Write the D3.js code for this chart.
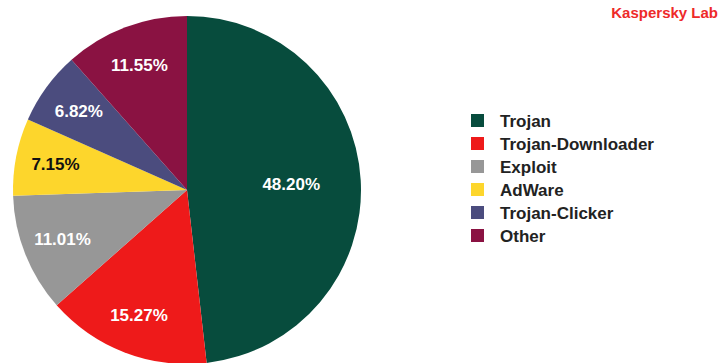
<!DOCTYPE html>
<html>
<head>
<meta charset="utf-8">
<script src="https://cdn.jsdelivr.net/npm/d3@7"></script>
<style>
  body { margin: 0; background: #fff; }
  svg { display: block; font-family: "Liberation Sans", Arial, sans-serif; }
</style>
</head>
<body>
<div id="chart"></div>
<script>
// data
const categories = ["Trojan", "Trojan-Downloader", "Exploit", "AdWare", "Trojan-Clicker", "Other"];
const shares = [48.20, 15.27, 11.01, 7.15, 6.82, 11.55];
const colors = ["#074c3d", "#ee1a1a", "#979797", "#fdd62c", "#4b4c7e", "#8a1242"];
const labelColors = ["#fff", "#fff", "#fff", "#111", "#fff", "#fff"];

const width = 727, height = 363;
const cx = 187, cy = 190, radius = 174;

const svg = d3.select("#chart").append("svg")
    .attr("width", width)
    .attr("height", height);

const data = categories.map((c, i) => ({ name: c, value: shares[i], color: colors[i], label: labelColors[i] }));

const pie = d3.pie().value(d => d.value).sort(null);
const arcs = pie(data);

const arc = d3.arc().innerRadius(0).outerRadius(radius);

const g = svg.append("g").attr("transform", "translate(" + cx + "," + cy + ")");

g.selectAll("path")
    .data(arcs)
    .join("path")
    .attr("d", arc)
    .attr("fill", d => d.data.color);

// labels: big slice closer to centre, small ones further out
g.selectAll("text")
    .data(arcs)
    .join("text")
    .attr("transform", d => {
        const r = d.data.value > 25 ? 0.6 * radius : 0.77 * radius;
        const a = (d.startAngle + d.endAngle) / 2;
        return "translate(" + (Math.sin(a) * r) + "," + (-Math.cos(a) * r) + ")";
    })
    .attr("text-anchor", "middle")
    .attr("dy", "0.35em")
    .style("font-size", "17px")
    .style("font-weight", "bold")
    .attr("fill", d => d.data.label)
    .text(d => d.data.value.toFixed(2) + "%");

// legend
const legend = svg.append("g").attr("transform", "translate(471,114)");
const rows = legend.selectAll("g")
    .data(data)
    .join("g")
    .attr("transform", (d, i) => "translate(0," + (i * 23) + ")");

rows.append("rect")
    .attr("width", 13)
    .attr("height", 13)
    .attr("fill", d => d.color);

rows.append("text")
    .attr("x", 29)
    .attr("y", 7)
    .attr("dy", "0.35em")
    .style("font-size", "17px")
    .style("font-weight", "bold")
    .attr("fill", "#222")
    .text(d => d.name);

svg.append("text")
    .attr("x", 718)
    .attr("y", 18)
    .attr("text-anchor", "end")
    .style("font-size", "15px")
    .style("font-weight", "bold")
    .attr("fill", "#ee2a2a")
    .text("Kaspersky Lab");
</script>
</body>
</html>
